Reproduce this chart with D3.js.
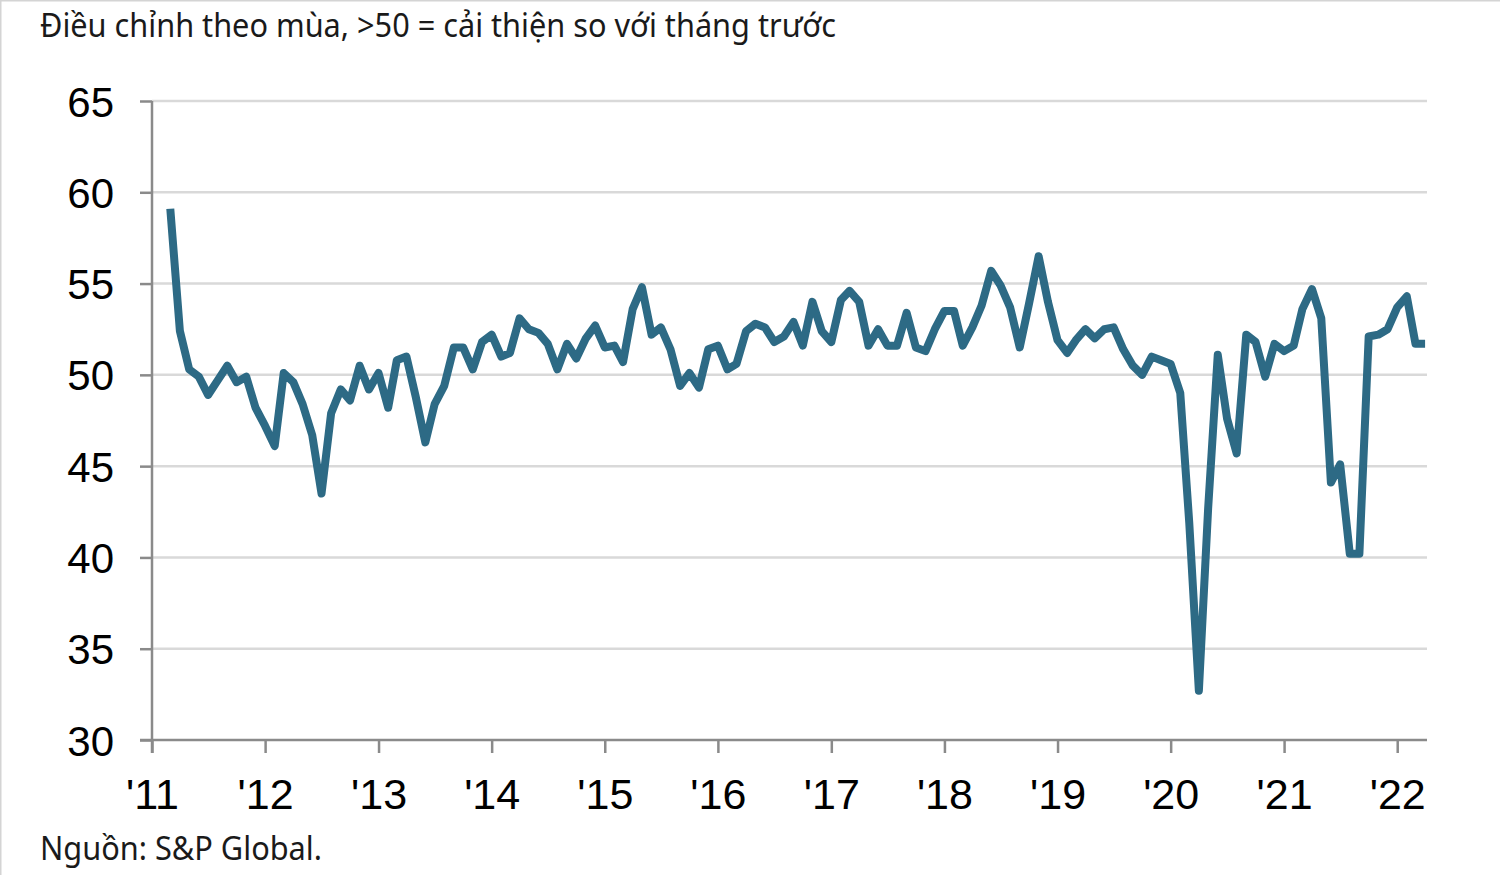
<!DOCTYPE html>
<html>
<head>
<meta charset="utf-8">
<script src="https://cdn.jsdelivr.net/npm/d3@7"></script>
<style>
html,body{margin:0;padding:0;background:#fff;}
svg{display:block;}
</style>
</head>
<body>
<svg id="chart" width="1500" height="875"></svg>
<script>
// ---- Data (monthly index, Mar 2011 – Apr 2022) ----
const startYear = 2011, startMonth = 2; // March (0-based)
const v2011 = [59.1, 52.4, 50.3, 49.9, 48.9, 49.7, 50.5, 49.6, 49.9, 48.2];
const v2012 = [47.2, 46.1, 50.1, 49.6, 48.4, 46.7, 43.5, 47.9, 49.2, 48.6, 50.5, 49.2];
const v2013 = [50.1, 48.2, 50.8, 51.0, 48.8, 46.3, 48.4, 49.4, 51.5, 51.5, 50.3, 51.8];
const v2014 = [52.2, 51.0, 51.2, 53.1, 52.5, 52.3, 51.7, 50.3, 51.7, 50.9, 52.0, 52.7];
const v2015 = [51.5, 51.6, 50.7, 53.6, 54.8, 52.2, 52.6, 51.4, 49.4, 50.1, 49.3, 51.4];
const v2016 = [51.6, 50.3, 50.6, 52.4, 52.8, 52.6, 51.8, 52.1, 52.9, 51.6, 54.0, 52.4];
const v2017 = [51.8, 54.1, 54.6, 54.0, 51.6, 52.5, 51.6, 51.6, 53.4, 51.5, 51.3, 52.5];
const v2018 = [53.5, 53.5, 51.6, 52.6, 53.8, 55.7, 54.9, 53.7, 51.5, 53.9, 56.5, 54.0];
const v2019 = [51.9, 51.2, 51.9, 52.5, 52.0, 52.5, 52.6, 51.4, 50.5, 50.0, 51.0, 50.8];
const v2020 = [50.6, 49.0, 41.9, 32.7, 42.7, 51.1, 47.6, 45.7, 52.2, 51.8, 49.9, 51.7];
const v2021 = [51.3, 51.6, 53.6, 54.7, 53.1, 44.1, 45.1, 40.2, 40.2, 52.1, 52.2, 52.5];
const v2022 = [53.7, 54.3, 51.7, 51.7];

const yTicks = [30, 35, 40, 45, 50, 55, 60, 65];
const xTickYears = [2011, 2012, 2013, 2014, 2015, 2016, 2017, 2018, 2019, 2020, 2021, 2022];
const xTickLabels = ["'11", "'12", "'13", "'14", "'15", "'16", "'17", "'18", "'19", "'20", "'21", "'22"];
const titleText = "Điều chỉnh theo mùa, >50 = cải thiện so với tháng trước";
const sourceText = "Nguồn: S&P Global.";

const values = [].concat(v2011, v2012, v2013, v2014, v2015, v2016, v2017, v2018, v2019, v2020, v2021, v2022);
const data = values.map((v, i) => ({date: new Date(startYear, startMonth + i, 1), value: v}));

// ---- Layout ----
const svg = d3.select("#chart");
const W = 1500, H = 875;
const plotL = 152, plotR = 1427, plotT = 101, plotB = 740;

const x = d3.scaleTime()
  .domain([new Date(2011, 0, 1), new Date(2022, 0, 1)])
  .range([plotL, plotL + 11 * 113.2]);
const y = d3.scaleLinear().domain([30, 65]).range([plotB, plotT]);

// border
svg.append("rect").attr("x", 0.75).attr("y", 0.75).attr("width", W + 2).attr("height", H + 2)
  .attr("fill", "none").attr("stroke", "#d4d4d4").attr("stroke-width", 1.5);

// gridlines
svg.append("g").selectAll("line").data(yTicks.filter(t => t > 30)).join("line")
  .attr("x1", plotL).attr("x2", plotR)
  .attr("y1", d => y(d)).attr("y2", d => y(d))
  .attr("stroke", "#d9d9d9").attr("stroke-width", 2.5);

// y axis
const yAxis = d3.axisLeft(y).tickValues(yTicks).tickSize(12).tickPadding(26).tickFormat(d3.format("d"));
const gy = svg.append("g").attr("transform", `translate(${plotL},0)`).call(yAxis);
gy.select(".domain").remove();
gy.append("line").attr("x1", 0).attr("x2", 0).attr("y1", plotT).attr("y2", plotB + 13)
  .attr("stroke", "#8a8a8a").attr("stroke-width", 2.5);
gy.selectAll(".tick line").attr("stroke", "#8a8a8a").attr("stroke-width", 2.5);
gy.selectAll(".tick text").attr("fill", "#000")
  .style("font-family", "'Liberation Sans', Arial, sans-serif").style("font-size", "42px")
  .attr("dy", "0.36em");

// x axis
const xAxis = d3.axisBottom(x).tickValues(xTickYears.map(yr => new Date(yr, 0, 1)))
  .tickSize(13).tickPadding(25).tickFormat((d, i) => xTickLabels[i]);
const gx = svg.append("g").attr("transform", `translate(0,${plotB})`).call(xAxis);
gx.select(".domain").remove();
gx.append("line").attr("x1", plotL - 12).attr("x2", plotR).attr("y1", 0).attr("y2", 0)
  .attr("stroke", "#8a8a8a").attr("stroke-width", 2.5);
gx.selectAll(".tick line").attr("stroke", "#8a8a8a").attr("stroke-width", 2.5);
gx.selectAll(".tick text").attr("fill", "#000")
  .style("font-family", "'Liberation Sans', Arial, sans-serif").style("font-size", "43px");

// line
const line = d3.line().x(d => x(d.date)).y(d => y(d.value));
svg.append("path").datum(data)
  .attr("d", line)
  .attr("fill", "none")
  .attr("stroke", "#2d6a85")
  .attr("stroke-width", 8)
  .attr("stroke-linejoin", "round")
  .attr("stroke-linecap", "butt");

// title & source
svg.append("text").attr("x", 40).attr("y", 37).text(titleText)
  .attr("fill", "#1a1a1a")
  .style("font-family", "'Noto Sans', sans-serif").style("font-size", "32px")
  .attr("textLength", 796).attr("lengthAdjust", "spacingAndGlyphs");
svg.append("text").attr("x", 40).attr("y", 860).text(sourceText)
  .attr("fill", "#1a1a1a")
  .style("font-family", "'Noto Sans', sans-serif").style("font-size", "32px")
  .attr("textLength", 282).attr("lengthAdjust", "spacingAndGlyphs");
</script>
</body>
</html>
